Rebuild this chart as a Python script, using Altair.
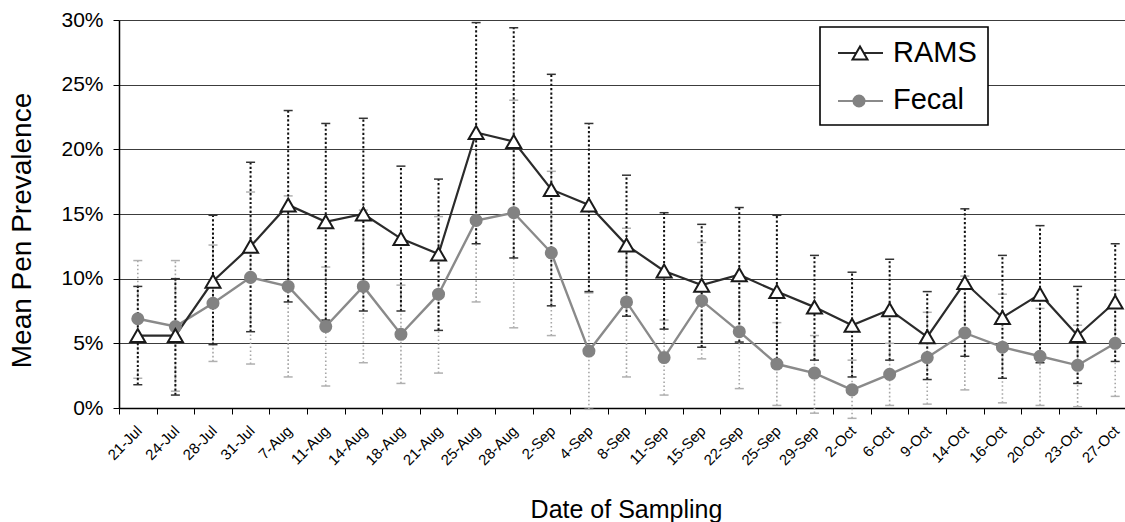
import altair as alt
import pandas as pd

dates = ["21-Jul", "24-Jul", "28-Jul", "31-Jul", "7-Aug", "11-Aug", "14-Aug", "18-Aug",
         "21-Aug", "25-Aug", "28-Aug", "2-Sep", "4-Sep", "8-Sep", "11-Sep", "15-Sep",
         "22-Sep", "25-Sep", "29-Sep", "2-Oct", "6-Oct", "9-Oct", "14-Oct", "16-Oct",
         "20-Oct", "23-Oct", "27-Oct"]

rams = [5.6, 5.6, 9.8, 12.5, 15.7, 14.4, 15.0, 13.1, 11.9, 21.3, 20.6, 16.9, 15.7, 12.6,
        10.6, 9.5, 10.3, 9.0, 7.8, 6.4, 7.6, 5.5, 9.7, 7.0, 8.8, 5.6, 8.2]
rams_hi = [9.4, 10.0, 14.9, 19.0, 23.0, 22.0, 22.4, 18.7, 17.7, 29.8, 29.4, 25.8, 22.0, 18.0,
           15.1, 14.2, 15.5, 14.9, 11.8, 10.5, 11.5, 9.0, 15.4, 11.8, 14.1, 9.4, 12.7]
rams_lo = [1.8, 1.0, 4.9, 5.9, 8.2, 6.8, 7.5, 7.5, 6.0, 12.7, 11.6, 7.9, 9.0, 7.1,
           6.1, 4.7, 5.1, 3.1, 3.7, 2.4, 3.7, 2.2, 4.0, 2.3, 3.5, 1.9, 3.6]

fecal = [6.9, 6.3, 8.1, 10.1, 9.4, 6.3, 9.4, 5.7, 8.8, 14.5, 15.1, 12.0, 4.4, 8.2,
         3.9, 8.3, 5.9, 3.4, 2.7, 1.4, 2.6, 3.9, 5.8, 4.7, 4.0, 3.3, 5.0]
fecal_hi = [11.4, 11.4, 12.6, 16.7, 16.4, 10.9, 15.3, 9.5, 14.8, 20.8, 23.8, 18.3, 8.9, 13.9,
            6.8, 12.8, 10.3, 6.6, 5.6, 3.7, 5.0, 7.4, 10.2, 8.8, 7.7, 6.4, 9.1]
fecal_lo = [2.3, 1.3, 3.6, 3.4, 2.4, 1.7, 3.5, 1.9, 2.7, 8.2, 6.2, 5.6, -0.1, 2.4,
            1.0, 3.8, 1.5, 0.2, -0.4, -0.8, 0.2, 0.3, 1.4, 0.4, 0.2, 0.1, 0.9]

series_names = ["RAMS", "Fecal"]

rams_df = pd.DataFrame({"date": dates, "value": [v / 100 for v in rams],
                        "lo": [v / 100 for v in rams_lo], "hi": [v / 100 for v in rams_hi]})
fecal_df = pd.DataFrame({"date": dates, "value": [v / 100 for v in fecal],
                         "lo": [v / 100 for v in fecal_lo], "hi": [v / 100 for v in fecal_hi]})

FONT = "Liberation Sans"
W, H = 1006, 388

xscale = alt.Scale(type="band", domain=dates, range=[0, 1015], paddingInner=0, paddingOuter=0)
yscale = alt.Scale(domain=[0, 0.30], nice=False, zero=False)

x_axis = alt.Axis(title="Date of Sampling", labelAngle=-45, labelFontSize=15, labelColor="black",
                  labelFont=FONT, tickBand="extent", ticks=True, tickSize=6, tickColor="black",
                  domainColor="black", domainWidth=1.5, labelPadding=9, labelOffset=-4,
                  titleFontSize=25, titleFont=FONT, titleFontWeight="normal", titleColor="black",
                  titleX=507, titleY=109, titleBaseline="alphabetic", titleAnchor="middle",
                  titleAlign="center")
y_axis = alt.Axis(title="Mean Pen Prevalence", format=".0%", values=[0, 0.05, 0.10, 0.15, 0.20, 0.25, 0.30],
                  labelFontSize=21, labelFont=FONT, labelColor="black", labelPadding=10,
                  tickSize=6, tickColor="black", domainColor="black", domainWidth=1.5,
                  grid=True, gridColor="#3c3c3c", gridWidth=1.2,
                  titleFontSize=28, titleFont=FONT, titleFontWeight="normal", titleColor="black",
                  titleX=-97, titleY=210, titleAngle=-90, titleBaseline="middle", titleAlign="center")


def X():
    return alt.X("date:N", sort=dates, scale=xscale, bandPosition=0.5, axis=x_axis)


def Y(field):
    return alt.Y(field, scale=yscale, axis=y_axis)


def errbars(df, color, width, dash, capcolor):
    rule = alt.Chart(df).mark_rule(color=color, strokeWidth=width, strokeDash=dash).encode(
        x=X(), y=Y("lo:Q"), y2="hi:Q")
    cap_hi = alt.Chart(df).mark_tick(color=capcolor, size=9, thickness=1.5, opacity=1).encode(
        x=X(), y=Y("hi:Q"))
    cap_lo = alt.Chart(df).mark_tick(color=capcolor, size=9, thickness=1.5, opacity=1).encode(
        x=X(), y=Y("lo:Q"))
    return [rule, cap_hi, cap_lo]


layers = []
layers += errbars(fecal_df, "#a6a6a6", 1.6, [1.6, 2.4], "#b0b0b0")
layers += errbars(rams_df, "#111111", 2.0, [2.2, 2.2], "#333333")

fecal_line = alt.Chart(fecal_df).mark_line(color="#8a8a8a", strokeWidth=2.4).encode(x=X(), y=Y("value:Q"))
rams_line = alt.Chart(rams_df).mark_line(color="#2b2b2b", strokeWidth=2.2).encode(x=X(), y=Y("value:Q"))
fecal_pts = alt.Chart(fecal_df).mark_point(shape="circle", size=170, filled=True, color="#828282",
                                           opacity=1).encode(x=X(), y=Y("value:Q"))
rams_pts = alt.Chart(rams_df).mark_point(shape="triangle-up", size=225, filled=True, fill="white",
                                         stroke="#1a1a1a", strokeWidth=2, opacity=1).encode(
    x=X(), y=Y("value:Q"))
layers += [fecal_line, rams_line, fecal_pts, rams_pts]

# legend (drawn manually so each entry shows line + marker)
leg_rams = pd.DataFrame({"label": [series_names[0]]})
leg_fecal = pd.DataFrame({"label": [series_names[1]]})
box = alt.Chart(leg_rams).mark_rect(fill="white", stroke="black", strokeWidth=1.6).encode(
    x=alt.value(701), x2=alt.value(869), y=alt.value(7), y2=alt.value(105))
r_line = alt.Chart(leg_rams).mark_rule(color="#2b2b2b", strokeWidth=2).encode(
    x=alt.value(719), x2=alt.value(764), y=alt.value(33))
r_sym = alt.Chart(leg_rams).mark_point(shape="triangle-up", size=225, filled=True, fill="white",
                                       stroke="#1a1a1a", strokeWidth=2, opacity=1).encode(
    x=alt.value(741), y=alt.value(33))
r_txt = alt.Chart(leg_rams).mark_text(align="left", baseline="alphabetic", fontSize=29, font=FONT,
                                      color="black").encode(
    x=alt.value(774), y=alt.value(42), text="label:N")
f_line = alt.Chart(leg_fecal).mark_rule(color="#8a8a8a", strokeWidth=2).encode(
    x=alt.value(719), x2=alt.value(764), y=alt.value(81))
f_sym = alt.Chart(leg_fecal).mark_point(shape="circle", size=170, filled=True, color="#828282",
                                        opacity=1).encode(x=alt.value(740), y=alt.value(81))
f_txt = alt.Chart(leg_fecal).mark_text(align="left", baseline="alphabetic", fontSize=29, font=FONT,
                                       color="black").encode(
    x=alt.value(774), y=alt.value(89), text="label:N")
layers += [box, r_line, r_sym, r_txt, f_line, f_sym, f_txt]

chart = alt.layer(*layers).properties(
    width=W, height=H,
    autosize=alt.AutoSizeParams(type="none"),
    padding={"left": 119, "top": 20, "right": 0, "bottom": 114},
    background="white",
).configure_view(stroke=None).configure(font=FONT)

chart.save("out.html", embed_options={"renderer": "svg", "actions": False})
